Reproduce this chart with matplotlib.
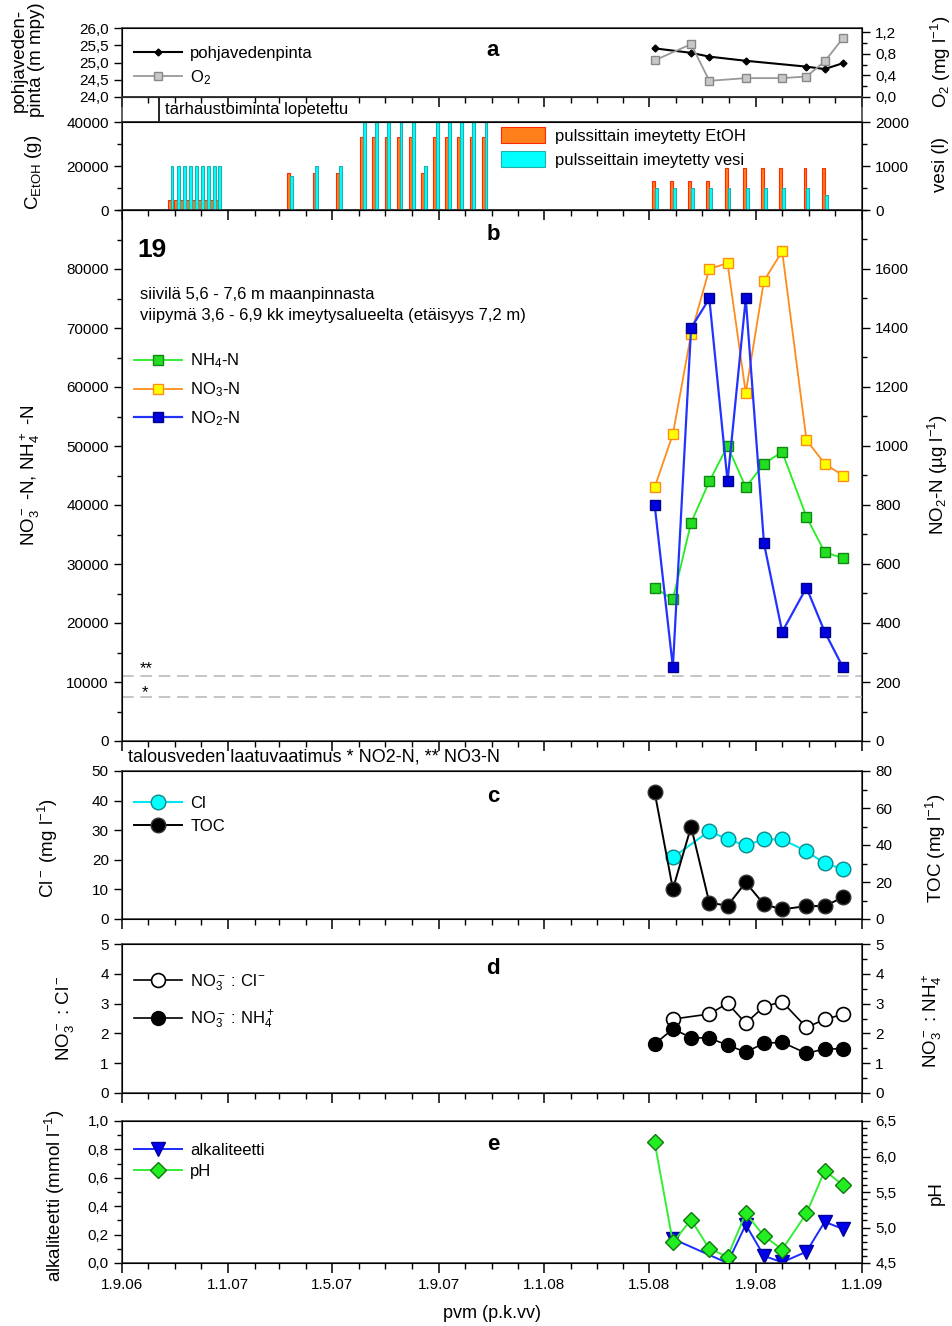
import numpy as np
import pandas as pd
import matplotlib
matplotlib.use('Agg')
import matplotlib.pyplot as plt
import matplotlib.dates as mdates
from matplotlib.ticker import MultipleLocator, FixedLocator, FuncFormatter

plt.rcParams['font.family'] = ['Liberation Sans', 'DejaVu Sans']
plt.rcParams['mathtext.fontset'] = 'custom'
plt.rcParams['mathtext.rm'] = 'Liberation Sans'
plt.rcParams['mathtext.it'] = 'Liberation Sans'
plt.rcParams['mathtext.bf'] = 'Liberation Sans:bold'

# --- data ---------------------------------------------------------------
# näytteenottopäivät 2008
pvm = ['2008-05-07', '2008-05-28', '2008-06-18', '2008-07-09', '2008-07-30', '2008-08-20',
       '2008-09-10', '2008-10-01', '2008-10-29', '2008-11-19', '2008-12-10']

# a: pohjavedenpinta ja O2
pinta_pvm = ['2008-05-07', '2008-06-18', '2008-07-09', '2008-08-20', '2008-10-29', '2008-11-19', '2008-12-10']
pinta = [25.41, 25.28, 25.17, 25.05, 24.88, 24.81, 24.98]
o2_pvm = ['2008-05-07', '2008-06-18', '2008-07-09', '2008-08-20', '2008-10-01', '2008-10-29', '2008-11-19', '2008-12-10']
o2 = [0.68, 0.98, 0.30, 0.35, 0.35, 0.38, 0.66, 1.09]

# tarhaustoiminta lopetettu
lopetus_pvm = '2006-10-14'

# pulssit
pulssi_pvm = ['2006-10-27', '2006-11-03', '2006-11-10', '2006-11-17', '2006-11-24', '2006-12-01',
              '2006-12-08', '2006-12-15', '2006-12-21',
              '2007-03-14', '2007-04-12', '2007-05-09',
              '2007-06-06', '2007-06-20', '2007-07-04', '2007-07-18', '2007-08-01', '2007-08-15',
              '2007-08-29', '2007-09-12', '2007-09-26', '2007-10-10', '2007-10-24',
              '2008-05-07', '2008-05-28', '2008-06-18', '2008-07-09', '2008-07-30', '2008-08-20',
              '2008-09-10', '2008-10-01', '2008-10-29', '2008-11-19']
etoh = [4500, 4500, 4500, 4500, 4500, 4500, 4500, 4500, 4500,
        16700, 17000, 17000,
        33300, 33300, 33300, 33300, 33300, 17000, 33300, 33300, 33300, 33300, 33300,
        13000, 13000, 13000, 13000, 19000, 19000, 19000, 19000, 19000, 19000]
vesi = [1000, 1000, 1000, 1000, 1000, 1000, 1000, 1000, 1000,
        780, 1000, 1000,
        2000, 2000, 2000, 2000, 2000, 1000, 2000, 2000, 2000, 2000, 2000,
        500, 500, 500, 500, 500, 500, 500, 500, 500, 330]

# b: typpiyhdisteet
nh4 = [26000, 24000, 37000, 44000, 50000, 43000, 47000, 49000, 38000, 32000, 31000]
no3 = [43000, 52000, 69000, 80000, 81000, 59000, 78000, 83000, 51000, 47000, 45000]
no2 = [800, 250, 1400, 1500, 880, 1500, 670, 370, 520, 370, 250]
raja_no3 = 11000   # ug/l
raja_no2 = 150     # ug/l

# c: kloridi ja TOC
cl_pvm = ['2008-05-28', '2008-07-09', '2008-07-30', '2008-08-20', '2008-09-10', '2008-10-01',
          '2008-10-29', '2008-11-19', '2008-12-10']
cl = [20.8, 29.7, 26.9, 24.9, 26.9, 26.9, 22.9, 18.8, 16.9]
toc = [68.5, 16.2, 49.9, 8.8, 7.2, 19.8, 7.9, 5.2, 7.0, 7.0, 11.7]

# d: suhteet
no3_cl = [2.48, 2.65, 3.01, 2.34, 2.90, 3.06, 2.20, 2.47, 2.64]
no3_nh4 = [1.64, 2.15, 1.86, 1.84, 1.61, 1.37, 1.67, 1.70, 1.33, 1.48, 1.48]

# e: alkaliteetti ja pH
alk_pvm = ['2008-05-28', '2008-07-30', '2008-08-20', '2008-09-10', '2008-10-01', '2008-10-29',
           '2008-11-19', '2008-12-10']
alk = [0.17, 0.0, 0.27, 0.05, 0.005, 0.08, 0.29, 0.24]
ph = [6.20, 4.79, 5.11, 4.70, 4.59, 5.20, 4.88, 4.69, 5.20, 5.80, 5.60]

# --- figure -------------------------------------------------------------
W, H = 953, 1326
fig = plt.figure(figsize=(W / 100, H / 100), dpi=100)
X0, X1 = 122, 862
xlim = (pd.Timestamp('2006-09-01'), pd.Timestamp('2009-01-01'))
d = pd.to_datetime


def rect(top, bottom):
    return [X0 / W, 1 - bottom / H, (X1 - X0) / W, (bottom - top) / H]


def txt(x, y, s, **kw):
    fig.text(x / W, 1 - y / H, s, **kw)


def comma(fmt):
    return FuncFormatter(lambda v, p: (fmt % v).replace('.', ','))


def style(ax, xlabels=False):
    ax.set_facecolor('none')
    ax.set_xlim(xlim)
    ax.xaxis.set_major_locator(mdates.MonthLocator(bymonth=[1, 5, 9]))
    ax.xaxis.set_minor_locator(mdates.MonthLocator())
    ax.xaxis.set_major_formatter(FuncFormatter(
        lambda v, p: '%d.%d.%02d' % (mdates.num2date(v).day, mdates.num2date(v).month,
                                     mdates.num2date(v).year % 100)))
    ax.tick_params(axis='x', which='major', direction='out', length=7, width=1.1,
                   labelbottom=xlabels, labelsize=11)
    ax.tick_params(axis='x', which='minor', direction='out', length=4, width=1)
    ax.tick_params(axis='y', which='major', direction='out', length=6, width=1, labelsize=11)
    ax.tick_params(axis='y', which='minor', direction='out', length=3.5, width=1)
    for s in ax.spines.values():
        s.set_linewidth(1.1)
        s.set_color('#333333')


def ystyle(ax):
    ax.tick_params(axis='y', which='major', direction='out', length=6, width=1, labelsize=11)
    ax.tick_params(axis='y', which='minor', direction='out', length=3.5, width=1)


leg = dict(loc='upper left', frameon=False, fontsize=12, handlelength=2.9,
           handletextpad=0.5, borderaxespad=0.3)

# a ----------------------------------------------------------------------
ax_a = fig.add_axes(rect(28, 97))
style(ax_a)
ax_a.set_ylim(24, 26)
ax_a.yaxis.set_major_locator(MultipleLocator(0.5))
ax_a.yaxis.set_major_formatter(comma('%.1f'))
l1, = ax_a.plot(d(pinta_pvm), pinta, '-', color='black', lw=1.5, marker='D', ms=3.5,
                label='pohjavedenpinta')
ax_a2 = ax_a.twinx()
ax_a2.set_facecolor('none')
ax_a2.set_ylim(0, 1.28)
ax_a2.yaxis.set_major_locator(FixedLocator([0, 0.4, 0.8, 1.2]))
ax_a2.yaxis.set_minor_locator(MultipleLocator(0.2))
ax_a2.yaxis.set_major_formatter(comma('%.1f'))
ystyle(ax_a2)
l2, = ax_a2.plot(d(o2_pvm), o2, '-', color='#999999', lw=1.3, marker='s', ms=6,
                 mfc='#c8c8c8', mec='#888888', label='O$_2$')
ax_a2.legend(handles=[l1, l2], bbox_to_anchor=(0.0, 0.91), labelspacing=0.42, **leg)
txt(493, 50, 'a', fontsize=16, fontweight='bold', ha='center', va='center')

# strip ------------------------------------------------------------------
ax_s = fig.add_axes(rect(97, 122))
ax_s.set_facecolor('none')
ax_s.set_xlim(xlim)
ax_s.set_ylim(0, 1)
ax_s.set_xticks([])
ax_s.set_yticks([])
for s in ax_s.spines.values():
    s.set_linewidth(1.1)
    s.set_color('#333333')
ax_s.axvline(d(lopetus_pvm), color='black', lw=1.2)
ax_s.text(d(lopetus_pvm) + pd.Timedelta(days=6), 0.5, 'tarhaustoiminta lopetettu',
          fontsize=12, va='center', ha='left')

# pulssit ----------------------------------------------------------------
ax_p = fig.add_axes(rect(122, 210))
style(ax_p)
ax_p.set_ylim(0, 40000)
ax_p.yaxis.set_major_locator(MultipleLocator(20000))
ax_p.yaxis.set_minor_locator(MultipleLocator(10000))
b1 = ax_p.bar(d(pulssi_pvm), etoh, width=-3.3, align='edge', color='#ff7f1a',
              edgecolor='#ff2a00', lw=0.8, label='pulssittain imeytetty EtOH')
ax_p2 = ax_p.twinx()
ax_p2.set_facecolor('none')
ax_p2.set_ylim(0, 2000)
ax_p2.yaxis.set_major_locator(MultipleLocator(1000))
ax_p2.yaxis.set_minor_locator(MultipleLocator(500))
ystyle(ax_p2)
b2 = ax_p2.bar(d(pulssi_pvm), vesi, width=3.3, align='edge', color='#00ffff',
               edgecolor='#20b0b0', lw=0.8, label='pulsseittain imeytetty vesi')
ax_p2.legend(handles=[b1, b2], bbox_to_anchor=(0.497, 1.075), loc='upper left',
             frameon=False, fontsize=12, handlelength=2.6, handleheight=1.1,
             labelspacing=0.45, handletextpad=0.6, borderaxespad=0.3)

# b ----------------------------------------------------------------------
ax_b = fig.add_axes(rect(210, 741))
style(ax_b)
ax_b.set_ylim(0, 90000)
ax_b.yaxis.set_major_locator(FixedLocator(np.arange(0, 80001, 10000)))
ax_b.yaxis.set_minor_locator(MultipleLocator(5000))
ax_b.axhline(raja_no3, color='#bbbbbb', lw=1.2, ls=(0, (7, 4)))
p1, = ax_b.plot(d(pvm), nh4, '-', color='#22ee22', lw=1.3, marker='s', ms=7,
                mfc='#22dd22', mec='#118811', label='NH$_4$-N')
p2, = ax_b.plot(d(pvm), no3, '-', color='#ff8c1a', lw=1.3, marker='s', ms=7,
                mfc='#ffff00', mec='#ff8c1a', label='NO$_3$-N')
ax_b2 = ax_b.twinx()
ax_b2.set_facecolor('none')
ax_b2.set_ylim(0, 1800)
ax_b2.yaxis.set_major_locator(FixedLocator(np.arange(0, 1601, 200)))
ax_b2.yaxis.set_minor_locator(MultipleLocator(100))
ystyle(ax_b2)
ax_b2.axhline(raja_no2, color='#bbbbbb', lw=1.2, ls=(0, (7, 4)))
p3, = ax_b2.plot(d(pvm), no2, '-', color='#2233ff', lw=1.6, marker='s', ms=7,
                 mfc='#0000dd', mec='#000088', label='NO$_2$-N')
ax_b2.legend(handles=[p1, p2, p3], bbox_to_anchor=(0.0, 0.755), labelspacing=0.6, **leg)
txt(493, 235, 'b', fontsize=16, fontweight='bold', ha='center', va='center')
txt(137, 250, '19', fontsize=19, fontweight='bold', ha='left', va='center')
txt(140, 294, 'siivilä 5,6 - 7,6 m maanpinnasta', fontsize=12, ha='left', va='center')
txt(140, 315, 'viipymä 3,6 - 6,9 kk imeytysalueelta (etäisyys 7,2 m)', fontsize=12,
    ha='left', va='center')
txt(140, 669, '**', fontsize=12, ha='left', va='center')
txt(142, 693, '*', fontsize=12, ha='left', va='center')
txt(128, 757, 'talousveden laatuvaatimus * NO2-N, ** NO3-N', fontsize=13,
    ha='left', va='center')

# c ----------------------------------------------------------------------
ax_c = fig.add_axes(rect(771, 919))
style(ax_c)
ax_c.set_ylim(0, 50)
ax_c.yaxis.set_major_locator(MultipleLocator(10))
c1, = ax_c.plot(d(cl_pvm), cl, '-', color='#00e5ee', lw=1.5, marker='o', ms=10.5,
                mfc='#00ffff', mec='#118888', label='Cl')
ax_c2 = ax_c.twinx()
ax_c2.set_facecolor('none')
ax_c2.set_ylim(0, 80)
ax_c2.yaxis.set_major_locator(MultipleLocator(20))
ax_c2.yaxis.set_minor_locator(MultipleLocator(10))
ystyle(ax_c2)
c2, = ax_c2.plot(d(pvm), toc, '-', color='black', lw=1.4, marker='o', ms=10.5,
                 mfc='black', mec='#333333', label='TOC')
ax_c2.legend(handles=[c1, c2], bbox_to_anchor=(0.0, 0.91), labelspacing=0.5, **leg)
txt(493, 797, 'c', fontsize=16, fontweight='bold', ha='center', va='center')

# d ----------------------------------------------------------------------
ax_d = fig.add_axes(rect(944, 1093))
style(ax_d)
ax_d.set_ylim(0, 5)
ax_d.yaxis.set_major_locator(MultipleLocator(1))
n1, = ax_d.plot(d(cl_pvm), no3_cl, '-', color='black', lw=1.2, marker='o', ms=10,
                mfc='white', mec='black', mew=1.2, label='NO$_3^-$ : Cl$^-$')
ax_d2 = ax_d.twinx()
ax_d2.set_facecolor('none')
ax_d2.set_ylim(0, 5)
ax_d2.yaxis.set_major_locator(MultipleLocator(1))
ax_d2.yaxis.set_minor_locator(MultipleLocator(0.5))
ystyle(ax_d2)
n2, = ax_d2.plot(d(pvm), no3_nh4, '-', color='black', lw=1.2, marker='o', ms=10,
                 mfc='black', mec='black', label='NO$_3^-$ : NH$_4^+$')
ax_d2.legend(handles=[n1, n2], bbox_to_anchor=(0.0, 0.89), labelspacing=0.95, **leg)
txt(493, 968, 'd', fontsize=16, fontweight='bold', ha='center', va='center')

# e ----------------------------------------------------------------------
ax_e = fig.add_axes(rect(1121, 1263))
style(ax_e, xlabels=True)
ax_e.set_ylim(0, 1.0)
ax_e.yaxis.set_major_locator(MultipleLocator(0.2))
ax_e.yaxis.set_minor_locator(MultipleLocator(0.1))
ax_e.yaxis.set_major_formatter(comma('%.1f'))
e1, = ax_e.plot(d(alk_pvm), alk, '-', color='#1a2cff', lw=1.4, marker='v', ms=10,
                mfc='#0000ee', mec='#000099', label='alkaliteetti')
ax_e2 = ax_e.twinx()
ax_e2.set_facecolor('none')
ax_e2.set_ylim(4.5, 6.5)
ax_e2.yaxis.set_major_locator(MultipleLocator(0.5))
ax_e2.yaxis.set_minor_locator(MultipleLocator(0.1))
ax_e2.yaxis.set_major_formatter(comma('%.1f'))
ystyle(ax_e2)
e2, = ax_e2.plot(d(pvm), ph, '-', color='#33ee33', lw=1.4, marker='D', ms=8,
                 mfc='#22ee22', mec='#117711', label='pH')
ax_e2.legend(handles=[e1, e2], bbox_to_anchor=(0.0, 0.93), labelspacing=0.38, **leg)
txt(493, 1144, 'e', fontsize=16, fontweight='bold', ha='center', va='center')
txt(492, 1313, 'pvm (p.k.vv)', fontsize=13, ha='center', va='center')

# y-akselien otsikot
lab = dict(fontsize=13.5, rotation=90, ha='center', va='center', multialignment='center')
txt(28, 60, 'pohjaveden-\npinta (m mpy)', linespacing=1.0, **lab)
txt(33, 172, 'C$_{\\mathrm{EtOH}}$ (g)', **lab)
txt(30, 475, 'NO$_3^-$ -N, NH$_4^+$ -N', **lab)
txt(48, 848, 'Cl$^-$ (mg l$^{-1}$)', **lab)
txt(65, 1018, 'NO$_3^-$ : Cl$^-$', **lab)
txt(55, 1196, 'alkaliteetti (mmol l$^{-1}$)', **lab)
txt(941, 62, 'O$_2$ (mg l$^{-1}$)', **lab)
txt(941, 165, 'vesi (l)', **lab)
txt(938, 475, 'NO$_2$-N (µg l$^{-1}$)', **lab)
txt(936, 848, 'TOC (mg l$^{-1}$)', **lab)
txt(932, 1020, 'NO$_3^-$ : NH$_4^+$', **lab)
txt(936, 1193, 'pH', **lab)

fig.savefig('out.png', dpi=100)
